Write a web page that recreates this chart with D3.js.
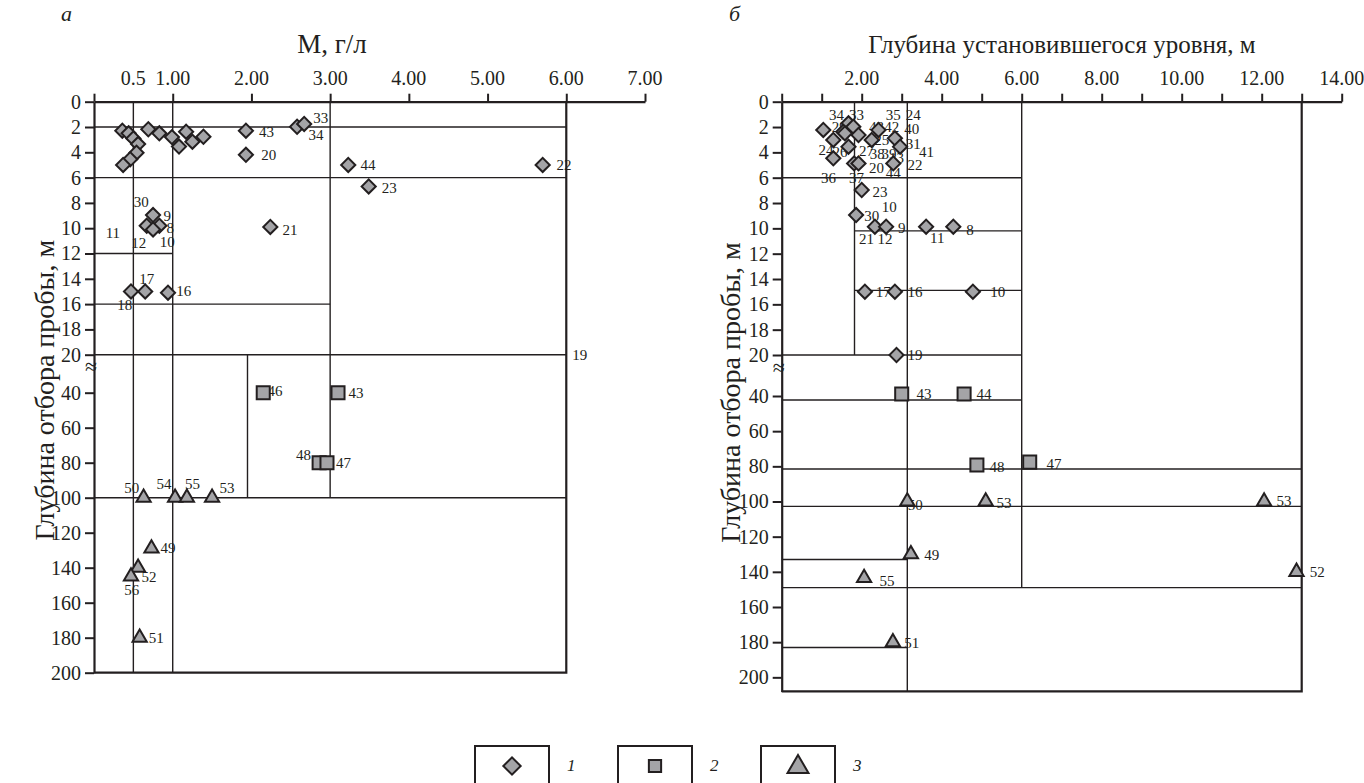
<!DOCTYPE html>
<html>
<head>
<meta charset="utf-8">
<script src="https://cdn.jsdelivr.net/npm/d3@7"></script>
<style>
  body { margin: 0; background: #fff; }
  svg { display: block; }
  text { font-family: "Liberation Serif", "Times New Roman", "DejaVu Serif", serif; fill: #231f20; }
</style>
</head>
<body>
<div id="chart"></div>
<script>
// shared depth ticks (broken axis: 0-20 then 40-200)
const yTicks = [0, 2, 4, 6, 8, 10, 12, 14, 16, 18, 20, 40, 60, 80, 100, 120, 140, 160, 180, 200];

// panel а: mineralisation, g/l
const aXTicks = [0, 1, 2, 3, 4, 5, 6, 7];
const aXLabels = [0.5, 1, 2, 3, 4, 5, 6, 7];
const aDiamonds = [
  [0.36, 2.29], [0.44, 2.5], [0.50, 2.9], [0.56, 3.35], [0.54, 4.03], [0.46, 4.55], [0.37, 5.0],
  [0.69, 2.18], [0.83, 2.5], [0.99, 2.8], [1.08, 3.55], [1.17, 2.37], [1.25, 3.16], [1.39, 2.77],
  [1.93, 2.29], [1.93, 4.2], [2.58, 1.98], [2.67, 1.76], [3.23, 5.0], [3.49, 6.7], [5.7, 5.0],
  [0.75, 8.96], [0.67, 9.8], [0.83, 9.8], [0.75, 10.1], [2.24, 9.9],
  [0.47, 15], [0.65, 15], [0.94, 15.1]
];
const aSquares = [[2.15, 40], [3.1, 40], [2.86, 80], [2.96, 80]];
const aTriangles = [[0.63, 100], [1.03, 100], [1.18, 100], [1.5, 100], [0.73, 129], [0.56, 140], [0.47, 145], [0.58, 180]];
const aLabels = [
  ['33', 2.88, 1.3], ['34', 2.82, 2.63], ['43', 2.19, 2.37], ['20', 2.22, 4.21], ['44', 3.48, 5.0],
  ['23', 3.75, 6.82], ['22', 5.97, 5.0], ['21', 2.49, 10.14], ['30', 0.6, 7.93], ['9', 0.93, 9.03],
  ['8', 0.97, 9.98], ['10', 0.93, 11.1], ['12', 0.57, 11.17], ['11', 0.24, 10.38], ['17', 0.67, 14.0],
  ['18', 0.39, 16.1], ['16', 1.14, 15.0], ['19', 6.17, 20], ['46', 2.3, 39], ['43', 3.33, 40],
  ['48', 2.66, 75.5], ['47', 3.17, 80], ['50', 0.48, 94.3], ['54', 0.89, 92.2], ['55', 1.25, 92.2],
  ['53', 1.69, 94.3], ['49', 0.94, 129], ['52', 0.7, 145.1], ['56', 0.48, 152.7], ['51', 0.79, 180.3]
];
// class boundaries: [y, x1, x2] and [x, y1, y2]
const aHLines = [[2, 0, 6], [6, 0, 6], [12, 0, 1], [16, 0, 3], [20, 0, 6], [100, 0, 6]];
const aVLines = [[0.5, 0, 200], [1, 0, 200], [1.95, 20, 100], [3, 0, 100]];
const aBox = [6, 200];

// panel б: static water level depth, m
const bXTicks = d3.range(0, 15);
const bXLabels = [2, 4, 6, 8, 10, 12, 14];
const bDiamonds = [
  [1.04, 2.23], [1.67, 1.71], [1.54, 2.37], [1.79, 1.97], [1.92, 2.63], [1.29, 3.02], [1.58, 2.5],
  [1.67, 3.55], [1.29, 4.47], [1.81, 4.87], [1.92, 4.87], [2.0, 6.97], [1.86, 8.95], [2.33, 9.87],
  [2.61, 9.87], [2.25, 3.02], [2.42, 2.23], [2.83, 2.89], [2.96, 3.55], [2.79, 4.87], [3.61, 9.87],
  [4.29, 9.87], [2.08, 15], [2.83, 15], [4.78, 15], [2.87, 20]
];
const bSquares = [[3.0, 39], [4.56, 39], [4.88, 79.3], [6.2, 77.6]];
const bTriangles = [[3.14, 100], [5.1, 100], [12.06, 100], [3.23, 130], [2.06, 143.5], [12.87, 140], [2.78, 180]];
const bLabels = [
  ['34', 1.37, 1.05], ['33', 1.87, 1.05], ['29', 1.44, 2.02], ['35', 2.79, 1.05], ['24', 3.29, 1.05],
  ['43', 2.37, 1.97], ['42', 2.75, 1.97], ['40', 3.25, 2.18], ['25', 2.5, 3.02], ['31', 3.29, 3.34],
  ['41', 3.62, 3.95], ['24', 1.11, 3.81], ['26', 1.46, 3.95], ['27', 2.12, 3.87], ['38', 2.39, 4.13],
  ['39', 2.68, 4.13], ['13', 2.87, 4.47], ['22', 3.33, 5.0], ['20', 2.37, 5.26], ['44', 2.79, 5.61],
  ['36', 1.17, 6.05], ['37', 1.87, 6.05], ['23', 2.46, 7.1], ['10', 2.69, 8.29], ['30', 2.25, 9.02],
  ['9', 3.0, 10.0], ['21', 2.12, 10.86], ['12', 2.58, 10.86], ['11', 3.89, 10.78], ['8', 4.71, 10.15],
  ['17', 2.54, 15.0], ['16', 3.33, 15.0], ['10', 5.4, 15.05], ['19', 3.33, 20], ['43', 3.56, 39],
  ['44', 5.06, 39], ['48', 5.38, 80.4], ['47', 6.81, 78.7], ['50', 3.34, 102], ['53', 5.56, 100.9],
  ['53', 12.56, 99.7], ['49', 3.75, 130.4], ['52', 13.39, 139.9], ['55', 2.63, 145], ['51', 3.25, 180.6]
];
const bHLines = [[6, 0, 6], [10.2, 1.82, 6], [14.9, 1.82, 6], [20, 0, 6], [42.3, 0, 6], [81.5, 0, 13],
  [102.8, 0, 13], [133, 0, 3.14], [149, 0, 13], [183, 0, 3.14]];
const bVLines = [[1.82, 0, 20], [3.14, 0, 208], [6, 0, 149]];
const bBox = [13, 208];

const legendItems = ['1', '2', '3'];

const INK = '#231f20';
const FILL = '#a4a4a7';
const SERIF = '"Liberation Serif", "Times New Roman", "DejaVu Serif", serif';

const svg = d3.select('#chart').append('svg')
  .attr('width', 1364)
  .attr('height', 783);

const diamond = d3.symbol().type(d3.symbolSquare);
const square = d3.symbol().type(d3.symbolSquare);
const triangle = d3.symbol().type(d3.symbolTriangle);

function drawMarks(g, data, kind, x, y) {
  const gen = kind === 'diamond' ? diamond.size(100) : kind === 'square' ? square.size(170) : triangle.size(88);
  g.selectAll(null)
    .data(data)
    .join('path')
    .attr('d', gen)
    .attr('transform', d => `translate(${x(d[0])},${y(d[1])})` + (kind === 'diamond' ? ' rotate(45)' : ''))
    .attr('fill', FILL)
    .attr('stroke', INK)
    .attr('stroke-width', 2)
    .attr('stroke-linejoin', 'miter');
}

function drawPanel(p) {
  const x = d3.scaleLinear().domain(p.xDomain).range(p.xRange);
  const y = d3.scaleLinear().domain(p.yDomain).range(p.yRange);
  const g = svg.append('g');

  // class boundary lines
  g.selectAll('.hl')
    .data(p.hLines)
    .join('line')
    .attr('x1', d => x(d[1]))
    .attr('x2', d => x(d[2]))
    .attr('y1', d => y(d[0]))
    .attr('y2', d => y(d[0]))
    .attr('stroke', INK)
    .attr('stroke-width', 1.4);
  g.selectAll('.vl')
    .data(p.vLines)
    .join('line')
    .attr('x1', d => x(d[0]))
    .attr('x2', d => x(d[0]))
    .attr('y1', d => y(d[1]))
    .attr('y2', d => y(d[2]))
    .attr('stroke', INK)
    .attr('stroke-width', 1.4);

  // right and bottom edge of the frame
  const [bx, by] = p.box;
  g.append('path')
    .attr('d', `M${x(0)},${y(by)}H${x(bx)}V${y(0)}`)
    .attr('fill', 'none')
    .attr('stroke', INK)
    .attr('stroke-width', 2.2);

  // x axis on top
  const xAxis = g.append('g')
    .attr('transform', `translate(0,${y(0)})`)
    .call(d3.axisTop(x).tickValues(p.xTicks).tickSize(8).tickSizeOuter(0).tickFormat(''));
  xAxis.select('.domain').attr('stroke', INK).attr('stroke-width', 2.2);
  xAxis.selectAll('.tick line').attr('stroke', INK).attr('stroke-width', 2);

  g.selectAll('.xl')
    .data(p.xLabels)
    .join('text')
    .attr('x', d => x(d))
    .attr('y', y(0) - 17)
    .attr('text-anchor', 'middle')
    .attr('font-size', 20)
    .text(p.xFormat);

  // y axis (broken)
  const yAxis = g.append('g')
    .attr('transform', `translate(${x(0)},0)`)
    .call(d3.axisLeft(y).tickValues(yTicks).tickSize(9).tickSizeOuter(0).tickPadding(4).tickFormat(d3.format('d')));
  yAxis.select('.domain').attr('stroke', INK).attr('stroke-width', 2.2);
  yAxis.selectAll('.tick line').attr('stroke', INK).attr('stroke-width', 2);
  yAxis.selectAll('.tick text')
    .attr('font-size', 20)
    .attr('font-family', SERIF)
    .attr('fill', INK);

  g.append('text')
    .attr('x', x(0) - 3)
    .attr('y', y(26))
    .attr('text-anchor', 'middle')
    .attr('dominant-baseline', 'central')
    .attr('font-size', 22)
    .text('≈');

  // point numbers
  g.selectAll('.lbl')
    .data(p.labels)
    .join('text')
    .attr('x', d => x(d[1]))
    .attr('y', d => y(d[2]))
    .attr('text-anchor', 'middle')
    .attr('dominant-baseline', 'central')
    .attr('font-size', 15)
    .text(d => d[0]);

  drawMarks(g, p.diamonds, 'diamond', x, y);
  drawMarks(g, p.squares, 'square', x, y);
  drawMarks(g, p.triangles, 'triangle', x, y);

  // titles
  g.append('text')
    .attr('x', p.titleX)
    .attr('y', 53)
    .attr('text-anchor', 'middle')
    .attr('font-size', p.titleSize)
    .text(p.title);
  g.append('text')
    .attr('transform', `translate(${p.yTitleX},${(y(0) + y(200)) / 2 + 3}) rotate(-90)`)
    .attr('text-anchor', 'middle')
    .attr('font-size', 28)
    .text('Глубина отбора пробы, м');
  g.append('text')
    .attr('x', p.letterX)
    .attr('y', 21)
    .attr('font-size', 22)
    .attr('font-style', 'italic')
    .text(p.letter);
}

drawPanel({
  xDomain: [0, 7], xRange: [94, 645],
  yDomain: [0, 20, 40, 200], yRange: [101.7, 354.7, 392.7, 672.7],
  xTicks: aXTicks, xLabels: aXLabels,
  xFormat: d => (d < 1 ? '0.5' : d.toFixed(2)),
  diamonds: aDiamonds, squares: aSquares, triangles: aTriangles, labels: aLabels,
  hLines: aHLines, vLines: aVLines, box: aBox,
  title: 'М, г/л', titleX: 332, titleSize: 27,
  yTitleX: 54, letter: 'а', letterX: 61
});

drawPanel({
  xDomain: [0, 14], xRange: [781.7, 1341.7],
  yDomain: [0, 20, 40, 208], yRange: [101.7, 355, 396, 691.4],
  xTicks: bXTicks, xLabels: bXLabels,
  xFormat: d => d.toFixed(2),
  diamonds: bDiamonds, squares: bSquares, triangles: bTriangles, labels: bLabels,
  hLines: bHLines, vLines: bVLines, box: bBox,
  title: 'Глубина установившегося уровня, м', titleX: 1062, titleSize: 25,
  yTitleX: 740, letter: 'б', letterX: 729
});

// legend
const legX = d3.scalePoint().domain(legendItems).range([512, 798]);
const legendShapes = [
  d3.symbol().type(d3.symbolSquare).size(150)(),
  d3.symbol().type(d3.symbolSquare).size(150)(),
  d3.symbol().type(d3.symbolTriangle).size(190)()
];
const legend = svg.append('g');
const lg = legend.selectAll('g')
  .data(legendItems)
  .join('g')
  .attr('transform', d => `translate(${legX(d)},766)`);
lg.append('rect')
  .attr('x', -37)
  .attr('y', -20)
  .attr('width', 74)
  .attr('height', 40)
  .attr('fill', 'none')
  .attr('stroke', INK)
  .attr('stroke-width', 2);
lg.append('path')
  .attr('d', (d, i) => legendShapes[i])
  .attr('transform', (d, i) => (i === 0 ? 'rotate(45)' : i === 2 ? 'translate(0,1)' : ''))
  .attr('fill', FILL)
  .attr('stroke', INK)
  .attr('stroke-width', 2);
lg.append('text')
  .attr('x', 55)
  .attr('y', 5)
  .attr('font-size', 17)
  .attr('font-style', 'italic')
  .text(d => d);
</script>
</body>
</html>
